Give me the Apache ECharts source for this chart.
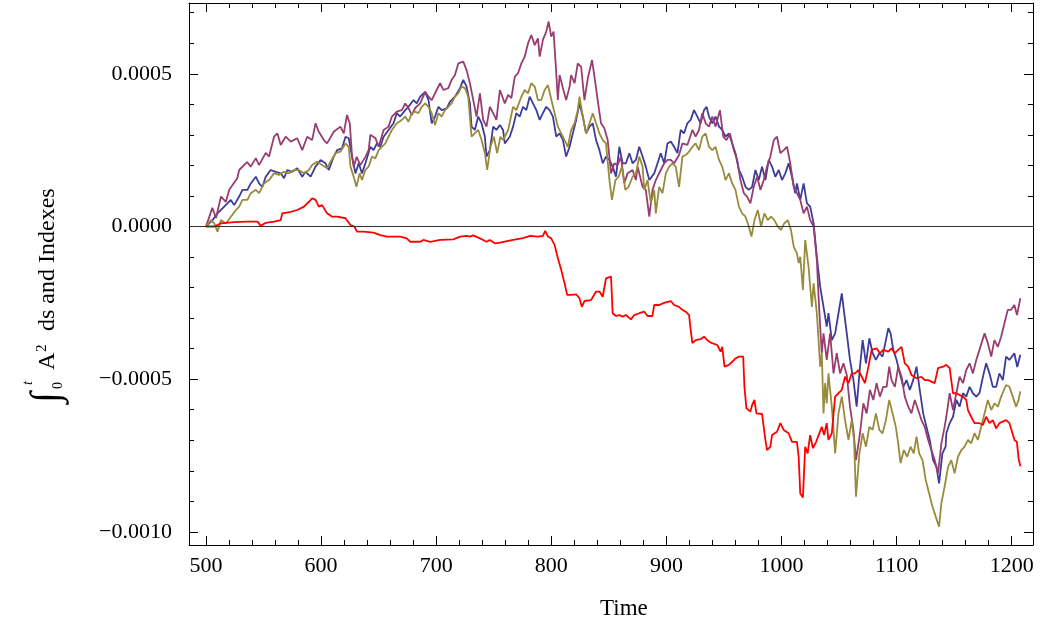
<!DOCTYPE html>
<html><head><meta charset="utf-8">
<script src="https://cdn.jsdelivr.net/npm/echarts@6/dist/echarts.min.js"></script>
<style>html,body{margin:0;padding:0;background:#fff}#c{width:1063px;height:623px}</style>
</head><body><div id="c"></div>
<script>
// Values, y in units of 1e-4
const UNIT = 1e-4;
const purpleE4 = [[500,0],[505.5,0.61],[508.7,0.28],[513,0.98],[517.3,0.81],[520.2,1.20],[527.3,1.59],[528.8,1.85],[535.7,2.11],[538.9,1.96],[543.3,2.24],[546.1,2.01],[551.9,2.41],[554.8,2.29],[559.1,2.94],[562,3.05],[564.9,2.67],[569.2,2.94],[573.6,2.78],[579.3,2.89],[583.6,2.50],[587.9,2.94],[592.2,2.83],[595.2,3.38],[598,3.10],[602.4,2.83],[605.2,2.72],[611,3.10],[616.8,3.27],[619.7,3.05],[622.5,3.65],[624.9,3.38],[626.9,2.29],[628.3,1.96],[630.9,2.28],[634.1,2.01],[638.5,2.28],[641.3,2.50],[642.8,3.00],[647.1,2.90],[650,2.61],[654.3,3.16],[658.6,3.27],[661.5,3.60],[665.8,3.76],[670.1,3.81],[673.1,4.03],[675.9,3.88],[678.8,3.65],[681.7,3.88],[686.1,4.03],[690.4,4.41],[693.3,4.25],[696.1,4.14],[700.4,4.47],[703.4,4.69],[706.2,4.47],[710.5,4.53],[713.4,4.80],[716.3,4.96],[719.2,5.34],[723.5,5.40],[726.4,5.12],[729.3,4.69],[732.2,4.14],[735,3.60],[738,4.36],[740.8,3.49],[743.7,3.27],[746.6,3.92],[751,3.60],[752.3,3.49],[755.3,4.47],[759.6,4.03],[762.5,4.31],[765.3,4.20],[768.3,4.91],[771.1,5.02],[774,5.34],[776.9,5.56],[779.8,6.00],[782.6,6.27],[785.6,5.94],[788.4,6.16],[789.9,5.56],[792.7,6.11],[795.6,6.38],[797.7,6.71],[799.9,6.22],[802,6.38],[804.3,5.02],[805.7,4.14],[807.2,4.96],[810.1,4.53],[812.9,4.14],[815.9,4.58],[817.2,4.96],[820.2,4.69],[823,5.34],[825.9,5.23],[828.8,4.14],[831.7,4.85],[835.4,5.45],[837.5,4.91],[840.3,4.14],[843.2,3.38],[846.1,3.22],[849,2.83],[851.9,1.74],[854.8,2.07],[857.6,2.01],[860.5,2.29],[863.4,1.42],[866.3,1.74],[870.6,1.85],[873.5,1.52],[875,1.96],[879.3,1.30],[882.1,1.20],[885.1,0.32],[887.9,1.20],[890.8,1.52],[895.1,1.85],[898.1,2.07],[900.9,2.18],[903.8,2.18],[906.7,2.07],[911,2.34],[913.9,2.72],[918.2,2.67],[922.6,3.16],[925.4,2.94],[928.3,3.16],[931.2,3.71],[934.1,3.38],[937,3.27],[939.9,3.60],[942.7,3.27],[946.5,3.81],[949.4,2.94],[952.2,2.83],[955.2,3.05],[958.6,2.50],[961.5,2.18],[964.3,1.52],[967.3,1.09],[970.1,0.98],[973,0.76],[975.9,1.30],[978.8,1.63],[981.7,1.20],[984.6,1.52],[987.4,1.96],[990.3,2.29],[993.3,2.83],[996.1,2.94],[999,2.40],[1001.9,2.50],[1004.8,2.61],[1007.6,2.07],[1010.6,1.30],[1013.4,1.09],[1016.3,0.87],[1019.2,0.43],[1022.1,0.65],[1024.9,0.21],[1027.9,0],[1030.7,-1.10],[1032.2,-2.30],[1033.6,-3.28],[1035,-4.15],[1036.5,-3.50],[1039.3,-4.37],[1042.2,-3.50],[1045.2,-4.81],[1048,-4.15],[1050.9,-4.81],[1053.8,-4.48],[1056.7,-4.86],[1059.5,-5.90],[1062.5,-6.66],[1064.7,-7.65],[1068.2,-6.77],[1071.1,-5.79],[1074,-6.12],[1076.8,-5.35],[1079.8,-5.68],[1082.6,-5.13],[1085.5,-5.57],[1088.4,-5.25],[1091.3,-5.25],[1093.6,-4.59],[1095.6,-5.03],[1098.5,-5.25],[1101.4,-4.59],[1104.3,-4.92],[1107.1,-5.57],[1110.1,-5.90],[1112.9,-6.12],[1115.8,-5.68],[1118.7,-6.01],[1121.6,-6.34],[1124.4,-6.56],[1127.4,-6.99],[1130.2,-7.32],[1133.1,-7.65],[1136,-8.08],[1138.9,-7.10],[1141.7,-6.56],[1143.2,-6.23],[1146.1,-5.46],[1149,-6.01],[1151.9,-5.46],[1154.7,-4.92],[1157.7,-5.13],[1160.5,-4.70],[1163.4,-4.48],[1166.3,-4.81],[1169.2,-4.37],[1172,-4.04],[1176.4,-3.50],[1179.3,-3.82],[1182.2,-4.26],[1185,-3.72],[1188,-3.94],[1190.8,-3.61],[1193.7,-3.17],[1196.6,-2.73],[1199.5,-2.73],[1202.3,-2.57],[1204.6,-2.90],[1207.5,-2.35]];

const blueE4 = [[500,0],[505.7,0.21],[510,0.43],[521.6,0.87],[524.5,0.70],[528.8,0.98],[531.7,1.20],[536,1.20],[538.9,1.41],[543.3,1.63],[546.1,1.41],[549,1.30],[551.9,1.63],[556.2,1.85],[560.6,1.79],[564.9,1.74],[567.8,1.58],[570.6,1.85],[574.9,1.79],[579.3,1.91],[583.6,1.63],[586.5,1.79],[590.9,1.63],[595.2,1.96],[599.5,2.18],[603.8,2.07],[606.7,1.85],[611,2.29],[613.9,2.50],[618.2,2.56],[621.2,2.94],[624,2.89],[625.5,2.83],[626.9,2.29],[629.8,1.74],[632.7,2.07],[635.5,1.74],[638.5,2.07],[642.8,2.61],[645.6,2.50],[648.5,2.72],[651.4,2.61],[654.3,2.94],[658.6,3.16],[662.9,3.38],[665.8,3.71],[668.7,3.60],[673.1,3.81],[675.9,3.92],[680.3,4.14],[683.1,4.03],[686.1,4.25],[690.4,4.41],[693.3,4.14],[696.1,3.38],[699,3.60],[701.9,3.92],[704.7,3.81],[709.1,3.87],[712,4.09],[716.3,4.25],[720.7,4.53],[723.5,4.80],[726.4,4.58],[729.3,4.03],[730.7,3.27],[733.6,3.16],[736.5,3.60],[739.4,3.38],[742.3,2.94],[743.7,2.29],[746.6,2.50],[749.5,3.27],[752.3,3.16],[755.3,3.32],[758.1,3.16],[759.6,2.72],[763.9,2.94],[766.8,3.27],[769.6,3.71],[772.6,3.60],[775.4,3.92],[778.3,3.81],[781.2,4.25],[784.1,4.03],[787,3.81],[789.9,3.49],[792.7,3.71],[795.6,3.92],[798.5,3.81],[801.4,3.60],[804.3,2.94],[807.2,3.05],[810.1,2.83],[812.9,2.29],[815.9,2.61],[818.7,3.05],[821.6,3.49],[824.5,4.03],[827.4,3.60],[830.2,3.05],[833.2,3.27],[836,3.38],[838.9,2.83],[841.8,2.50],[844.7,2.07],[847.5,2.29],[850.5,2.18],[853.3,1.96],[856.2,1.63],[859.1,2.61],[862,2.07],[864.8,2.07],[867.8,2.40],[870.6,2.07],[873.5,2.18],[876.4,2.61],[879.3,2.29],[882.1,1.96],[885.1,1.52],[889.4,1.74],[892.3,2.07],[895.1,2.40],[898.1,2.07],[900.9,2.72],[903.8,2.78],[906.7,2.61],[909.6,2.40],[912.4,3.16],[915.4,3.05],[918.2,3.38],[921.1,3.49],[924,3.81],[926.9,3.60],[929.7,3.38],[932.7,3.81],[934.9,3.92],[937,3.60],[939.9,3.38],[942.7,3.60],[945.7,3.27],[948.5,3.16],[951.4,2.94],[954.3,3.05],[957.2,2.72],[960,2.40],[963,1.85],[965.8,1.63],[968.7,1.30],[971.6,1.20],[974.5,1.30],[977.3,1.85],[980.3,1.52],[983.1,1.96],[986,1.52],[988.9,2.18],[991.8,1.96],[994.6,1.63],[997.6,1.85],[1000.4,1.52],[1003.3,1.74],[1006.2,2.07],[1009.1,1.63],[1011.9,1.09],[1013.4,1.41],[1016.3,0.87],[1019.2,1.41],[1022.1,0.76],[1024.9,0.65],[1027.9,0.10],[1030.7,-0.99],[1033.6,-1.97],[1036.5,-2.63],[1039.3,-3.28],[1040.8,-2.84],[1043.7,-3.72],[1046.6,-3.50],[1049.5,-2.84],[1052.4,-2.19],[1053.8,-2.63],[1056.7,-3.50],[1059.5,-4.37],[1062.5,-5.03],[1065.3,-5.90],[1068.2,-4.59],[1070.5,-3.72],[1073.4,-4.48],[1076.3,-3.66],[1079.2,-4.15],[1082,-4.37],[1085,-4.15],[1087.8,-4.26],[1090.7,-3.72],[1092.8,-3.33],[1094.8,-3.50],[1097.1,-4.04],[1100,-4.37],[1102.8,-4.81],[1105.8,-5.25],[1108.6,-5.03],[1111.5,-5.35],[1114.4,-5.03],[1117.3,-4.59],[1120.1,-5.35],[1123.1,-6.12],[1125.9,-6.56],[1128.8,-6.99],[1131.7,-7.65],[1134.6,-7.87],[1136.9,-8.41],[1139.8,-7.43],[1142.6,-7.21],[1143.2,-6.77],[1146.1,-6.44],[1149,-6.23],[1151.9,-5.68],[1154.7,-5.90],[1157.7,-5.46],[1160.5,-5.57],[1163.4,-5.25],[1166.3,-5.46],[1169.2,-5.57],[1172,-5.46],[1175,-4.92],[1177.8,-4.48],[1180.7,-4.81],[1183.6,-5.25],[1186.5,-5.25],[1189.3,-4.81],[1192.3,-5.03],[1195.1,-4.26],[1198,-4.37],[1202.3,-4.15],[1204.8,-4.60],[1207.5,-4.20]];

const oliveE4 = [[500,0],[504.3,0.21],[507.2,0.10],[510,-0.17],[513,0.21],[517.3,0.10],[521.6,0.32],[526,0.54],[528.8,0.65],[531.7,0.87],[536,0.87],[538.9,1.09],[543.3,1.20],[546.1,1.09],[550.4,1.41],[554.8,1.52],[559.1,1.74],[563.4,1.69],[567.8,1.79],[572.1,1.74],[576.4,1.85],[580.7,1.85],[585.1,1.74],[589.4,1.85],[592.2,2.01],[596.6,2.12],[600.9,2.01],[605.2,1.91],[608.2,2.12],[612.5,2.40],[616.8,2.45],[621.2,2.72],[624,2.61],[625.5,1.96],[628.3,1.63],[630.7,1.30],[633.5,1.74],[635.5,1.52],[638.5,1.85],[641.3,1.96],[644.2,2.29],[647.1,2.23],[650,2.50],[652.8,2.61],[655.8,2.72],[658.6,2.94],[661.5,3.16],[665.8,3.38],[670.1,3.49],[673.1,3.60],[675.9,3.43],[678.8,3.71],[681.7,3.76],[684.6,3.71],[687.4,3.92],[690.4,4.03],[693.3,3.92],[696.1,3.71],[699,3.32],[701.9,3.71],[704.7,3.60],[707.7,3.81],[710.5,3.92],[713.4,4.03],[716.3,4.25],[719.2,4.36],[722,4.58],[725,4.53],[727.8,4.25],[730.7,2.94],[733.6,3.05],[736.5,3.16],[739.4,2.83],[742.3,2.40],[744.3,1.85],[747.1,2.61],[750.1,2.94],[752.9,2.40],[755.8,2.94],[758.1,2.83],[762.5,3.16],[766.8,3.92],[769.6,3.81],[774,4.25],[776.9,4.47],[779.8,4.36],[782.6,4.69],[785.6,4.58],[788.4,4.14],[791.3,4.14],[794.2,4.47],[797.1,4.63],[800.1,4.14],[802.9,3.71],[805.7,3.27],[808.6,3.05],[811.5,2.83],[814.4,2.61],[817.2,3.16],[820.2,3.38],[823,3.81],[824.5,4.25],[827.4,3.60],[830.2,3.05],[833.2,3.38],[836,3.71],[838.9,3.38],[841.8,3.05],[844.7,2.83],[847.5,2.72],[850.5,1.52],[852.7,0.87],[855.7,1.52],[858.5,1.63],[861.4,1.96],[864.3,1.20],[867.2,1.30],[870.6,1.63],[873.5,1.74],[876.4,2.29],[879.3,1.96],[880.8,1.20],[883.6,1.52],[886.5,0.76],[889.4,1.20],[890.8,0.43],[893.7,1.30],[896.6,1.09],[899.5,1.74],[902.4,1.96],[905.3,2.07],[908.1,1.96],[911,1.30],[913.9,2.29],[916.8,2.34],[919.7,2.45],[922.6,2.61],[925.4,2.72],[928.3,2.50],[931.2,2.94],[934.1,3.05],[937,2.61],[939.9,2.50],[942.7,2.61],[945.7,2.18],[948.5,1.96],[951.4,1.52],[954.3,1.74],[957.2,1.41],[960,1.20],[963,0.65],[965.8,0.43],[968.7,0.32],[971.6,0],[973.9,-0.33],[976.5,0.21],[979.4,0.54],[982.3,0],[985.1,0.43],[988.1,0.21],[990.9,0.32],[993.8,0.21],[996.7,0],[999.6,-0.11],[1002.4,0.10],[1005.4,0.21],[1008.2,-0.11],[1010.6,-0.66],[1013.4,-0.88],[1014.9,-1.20],[1016.3,-0.99],[1018.6,-2.08],[1020.6,-0.44],[1023.5,-1.32],[1026.4,-2.63],[1027.9,-1.86],[1030.7,-2.84],[1032.2,-3.72],[1033.6,-4.59],[1035,-4.15],[1036.5,-6.12],[1037.9,-5.13],[1039.3,-5.79],[1040.8,-4.81],[1043.7,-5.90],[1046.6,-7.43],[1049.5,-6.12],[1052.4,-5.57],[1055.2,-6.34],[1058.2,-6.99],[1061,-6.34],[1063,-6.99],[1064.7,-8.85],[1067.7,-7.43],[1070.5,-6.77],[1073.4,-7.21],[1076.3,-6.56],[1079.2,-6.66],[1082,-6.12],[1085,-6.66],[1087.8,-6.77],[1090.7,-6.34],[1093.6,-5.68],[1096.5,-6.12],[1099.3,-6.56],[1101.4,-7.10],[1103.4,-7.75],[1106.3,-7.32],[1109.2,-7.54],[1112.1,-7.21],[1114.9,-7.43],[1117.3,-6.88],[1119.6,-7.43],[1122.5,-7.65],[1125.3,-8.30],[1128.3,-8.74],[1131.1,-9.17],[1134,-9.50],[1136.9,-9.83],[1138.9,-9.06],[1141.7,-8.52],[1144.7,-7.87],[1147.5,-7.65],[1150.4,-8.08],[1153.3,-7.54],[1156.2,-7.32],[1159.1,-7.21],[1162,-6.99],[1164.8,-7.10],[1167.7,-6.77],[1170.6,-6.99],[1173.5,-6.56],[1176.4,-6.12],[1179.3,-5.68],[1182.2,-6.01],[1185,-5.79],[1188,-5.90],[1190.8,-5.57],[1195.1,-5.19],[1198,-5.25],[1200.9,-5.57],[1203.8,-5.90],[1205.8,-5.70],[1207.5,-5.40]];

const redE4 = [[500,0],[507.2,0],[513,0.10],[524.5,0.14],[536,0.16],[544.7,0.16],[547.6,0.02],[551.9,0.12],[559.1,0.16],[564.9,0.21],[566.3,0.43],[573.6,0.48],[579.3,0.54],[585.1,0.65],[589.4,0.81],[592.2,0.92],[595.2,0.87],[598,0.65],[600.9,0.70],[605.2,0.43],[609.6,0.32],[613.9,0.32],[621.2,0.27],[625.5,0.05],[626.9,0.10],[628.9,0],[631.2,-0.17],[637,-0.17],[645.6,-0.20],[651.4,-0.28],[657.2,-0.33],[668.7,-0.33],[674.5,-0.39],[677.4,-0.50],[686.1,-0.50],[688.9,-0.44],[694.7,-0.50],[703.4,-0.44],[714.9,-0.42],[720.7,-0.33],[726.4,-0.31],[729.3,-0.33],[732.2,-0.29],[738,-0.39],[743.7,-0.50],[746.6,-0.44],[751,-0.55],[755.3,-0.53],[766.8,-0.44],[775.4,-0.38],[781.5,-0.31],[788.4,-0.33],[792.7,-0.31],[794.7,-0.14],[797.1,-0.33],[799.9,-0.39],[802.9,-0.61],[805.7,-1.04],[808.6,-1.42],[811.5,-1.86],[813.8,-2.24],[817.2,-2.24],[821.6,-2.22],[824.5,-2.35],[826.5,-2.63],[828.8,-2.44],[834.5,-2.41],[838.9,-2.13],[841.8,-2.13],[844.7,-2.30],[847.5,-1.70],[851.9,-1.64],[853.3,-2.84],[856.2,-2.93],[859.1,-2.90],[862,-2.95],[864.8,-2.90],[869.2,-3.04],[872.1,-2.90],[876.4,-2.84],[880.8,-2.79],[883.6,-2.93],[887.9,-2.93],[889.4,-2.57],[893.7,-2.57],[898.1,-2.50],[903.8,-2.44],[906.7,-2.57],[911,-2.63],[913.9,-2.73],[916.8,-2.79],[919.7,-2.90],[921.1,-3.39],[922.6,-3.82],[925.4,-3.72],[929.7,-3.69],[932.7,-3.61],[935.5,-3.72],[938.4,-3.80],[944.2,-3.88],[947.1,-4.10],[948.5,-3.94],[950.5,-4.59],[954.3,-4.53],[957.2,-4.43],[960,-4.32],[963,-4.26],[966.7,-4.26],[967.8,-5.25],[969.5,-5.95],[973,-6.06],[974.5,-5.84],[976.5,-5.68],[978.2,-6.12],[983.1,-6.14],[986,-6.99],[987.5,-7.32],[990.3,-7.21],[991.8,-6.83],[996.1,-6.72],[999,-6.44],[1001.9,-6.66],[1006.2,-6.77],[1009.1,-7.05],[1013.4,-7.05],[1014.9,-7.54],[1016.3,-8.74],[1018.6,-8.87],[1020.6,-7.21],[1022.7,-7.43],[1024.9,-6.83],[1027.3,-7.26],[1030.1,-7.05],[1035,-6.56],[1037,-6.83],[1039.3,-6.44],[1040.8,-6.99],[1043.7,-6.77],[1046.6,-5.57],[1049.5,-5.46],[1052.4,-5.35],[1055.2,-4.92],[1058.2,-5.13],[1061,-4.81],[1063.9,-4.81],[1066.8,-4.70],[1069.7,-4.92],[1072.5,-5.13],[1075.5,-4.59],[1078.3,-4.04],[1082.6,-3.99],[1085.5,-4.15],[1088.4,-4.04],[1092.8,-4.10],[1095.6,-3.99],[1098.5,-4.15],[1101.4,-4.04],[1104.3,-3.94],[1107.1,-4.48],[1110.1,-4.59],[1112.9,-4.86],[1117.3,-4.97],[1121.6,-4.92],[1124.4,-5.03],[1127.4,-5.03],[1130.2,-5.08],[1133.1,-5.13],[1136,-4.64],[1140.4,-4.59],[1143.2,-4.53],[1146.1,-4.64],[1149,-5.46],[1151.9,-5.46],[1154.7,-5.52],[1157.7,-5.57],[1160.5,-5.68],[1162,-6.01],[1164.8,-6.23],[1167.7,-6.44],[1172,-6.44],[1175,-6.50],[1177.8,-6.23],[1180.7,-6.44],[1183.6,-6.34],[1186.5,-6.61],[1189.3,-6.44],[1195.1,-6.34],[1198,-6.44],[1200.5,-6.75],[1202.5,-7.00],[1204.5,-7.05],[1206,-7.60],[1207.5,-7.85]];

const xMajorTicks = [500,600,700,800,900,1000,1100,1200];
const xMinorTicks = [500,520,540,560,580,600,620,640,660,680,700,720,740,760,780,800,820,840,860,880,900,920,940,960,980,1000,1020,1040,1060,1080,1100,1120,1140,1160,1180,1200];
const yMajorTicks = [-0.001,-0.0005,0,0.0005];
const yMinorTicks = [-0.001,-0.0009,-0.0008,-0.0007,-0.0006,-0.0005,-0.0004,-0.0003,-0.0002,-0.0001,0,0.0001,0.0002,0.0003,0.0004,0.0005,0.0006,0.0007];
const xTitle = 'Time';

const X_MIN = 485.23, X_MAX = 1218.5;
const Y_MIN = -0.0010429, Y_MAX = 0.0007318;
const FONT = '"Liberation Serif", "Times New Roman", serif';

const toVal = arr => arr.map(p => [p[0], p[1] * UNIT]);

function xAx(pos, ticks, len, withLine, withLabel) {
  return {
    type: 'value', position: pos, min: X_MIN, max: X_MAX,
    axisLine: { show: withLine, onZero: false, lineStyle: { color: '#000', width: 1 } },
    axisTick: { show: true, inside: true, length: len, customValues: ticks, lineStyle: { color: '#000', width: 1 } },
    axisLabel: withLabel ? { show: true, customValues: ticks, fontFamily: FONT, fontSize: 22, color: '#000', margin: 10,
      formatter: v => String(Math.round(v)) } : { show: false },
    splitLine: { show: false }
  };
}
function yAx(pos, ticks, len, withLine, withLabel) {
  return {
    type: 'value', position: pos, min: Y_MIN, max: Y_MAX,
    axisLine: { show: withLine, onZero: false, lineStyle: { color: '#000', width: 1 } },
    axisTick: { show: true, inside: true, length: len, customValues: ticks, lineStyle: { color: '#000', width: 1 } },
    axisLabel: withLabel ? {
      show: true, customValues: ticks, fontFamily: FONT, fontSize: 22, color: '#000', margin: 17,
      formatter: v => (v < 0 ? '\u2212' : '') + Math.abs(v).toFixed(4)
    } : { show: false },
    splitLine: { show: false }
  };
}

const chart = echarts.init(document.getElementById('c'), null, { renderer: 'canvas' });
const lineS = (name, data, color) => ({
  name, type: 'line', data: toVal(data), xAxisIndex: 0, yAxisIndex: 0,
  symbol: 'none', showSymbol: false, animation: false,
  lineStyle: { color, width: 1.8 }, itemStyle: { color }
});
const series = [
  lineS('blue', blueE4, '#3d3d99'),
  lineS('purple', purpleE4, '#993d71'),
  lineS('olive', oliveE4, '#998b3d'),
  lineS('red', redE4, '#ff0000')
];
series[0].markLine = { silent: true, symbol: 'none', animation: false, label: { show: false },
  lineStyle: { color: '#333', width: 1, type: 'solid' }, data: [{ yAxis: 0 }] };

const T = (text, x, y, font) => ({ type: 'text', x, y, style: { text, font: font + FONT, fill: '#000', verticalAlign: 'bottom' } });

chart.setOption({
  animation: false,
  backgroundColor: '#fff',
  grid: { left: 189, top: 3, width: 1033 - 189, height: 542, containLabel: false },
  xAxis: [xAx('bottom', xMajorTicks, 9, true, true), xAx('bottom', xMinorTicks, 5, false, false),
          xAx('top', xMajorTicks, 9, true, false), xAx('top', xMinorTicks, 5, false, false)],
  yAxis: [yAx('left', yMajorTicks, 9, true, true), yAx('left', yMinorTicks, 5, false, false),
          yAx('right', yMajorTicks, 9, true, false), yAx('right', yMinorTicks, 5, false, false)],
  series,
  graphic: [
    { type: 'text', left: 600, top: 597, style: { text: xTitle, font: '23px ' + FONT, fill: '#000' } },
    { type: 'group', x: 60, y: 403, rotation: Math.PI / 2, children: [
      T('\u222B', 0, 7, '40px '),
      T('t', 18, -25, 'italic 14px '),
      T('0', 14, 5, '14px '),
      T('A', 33, 0, '24px '),
      T('2', 51, -10, '15px '),
      T('ds and Indexes', 72, 0, '24px ')
    ] }
  ]
});
</script></body></html>
